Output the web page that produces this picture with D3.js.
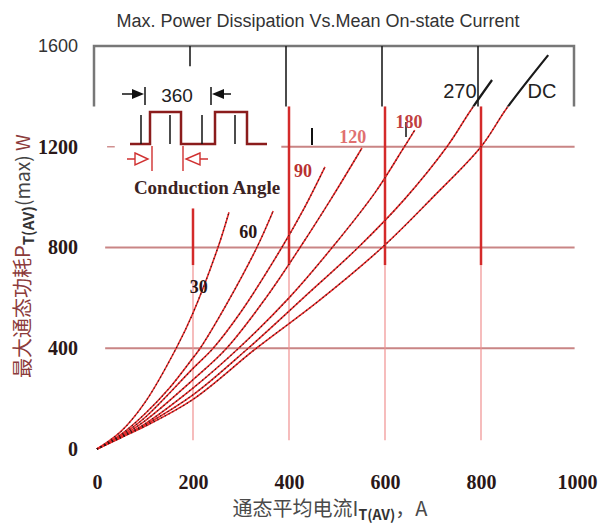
<!DOCTYPE html>
<html>
<head>
<meta charset="utf-8">
<script src="https://d3js.org/d3.v7.min.js"></script>
<style>
  body { margin: 0; background: #fff; }
  svg { display: block; background: #fff; }
  .tick text { font-family: "Liberation Serif", serif; font-weight: bold; font-size: 20px; fill: #2a1818; }
</style>
</head>
<body>
<svg id="chart" width="605" height="527"></svg>
<script>
// mean on-state current (A) -> max power dissipation (W), one array per conduction angle
var angles = ["30", "60", "90", "120", "180", "270", "DC"];
var curve30  = [[0,0],[50,70],[100,185],[165,400],[200,540],[252,800],[275,940]];
var curve60  = [[0,0],[50,58],[100,140],[150,240],[200,362],[215,400],[270,575],[333,800],[367,945]];
var curve90  = [[0,0],[50,54],[100,125],[200,320],[242,400],[300,545],[385,800],[430,950],[475,1120]];
var curve120 = [[0,0],[50,50],[100,112],[200,275],[270,400],[350,595],[423,800],[490,1000],[552,1195]];
var curve180 = [[0,0],[50,47],[100,100],[200,242],[295,400],[400,600],[490,800],[580,1020],[637,1190],[662,1266]];
var curve270 = [[0,0],[50,46],[100,95],[200,215],[315,400],[430,600],[544,800],[640,990],[729,1200],[777,1340],[823,1465]];
var curveDC  = [[0,0],[50,45],[100,90],[200,197],[332,400],[460,585],[594,800],[700,1000],[800,1200],[854,1354],[940,1564]];
var curves = [curve30, curve60, curve90, curve120, curve180, curve270, curveDC];
// where each curve's label sits (A, W)
var labelPos = [[212,619],[315,838],[429,1080],[533,1215],[650,1274],[756,1394],[927,1394]];
var labelColor = ["#2b1515","#2b1515","#b83030","#e07070","#c04040","#222","#222"];

var xTicks = [0, 200, 400, 600, 800, 1000];
var yTicks = [0, 400, 800, 1200, 1600];

var svg = d3.select("#chart");
var x = d3.scaleLinear().domain([0, 1000]).range([97, 577]);
var y = d3.scaleLinear().domain([0, 1600]).range([449, 46]);
var boxBottom = y(1360);

// title
svg.append("text")
  .attr("x", 318).attr("y", 27)
  .attr("text-anchor", "middle")
  .style("font-family", "Liberation Sans, Arial, sans-serif")
  .style("font-size", "18px")
  .style("fill", "#333")
  .text("Max. Power Dissipation Vs.Mean On-state Current");

// top box (black part of the old figure, a little shifted left)
var sh = -3;
svg.append("path")
  .attr("d", "M" + (x(0)+sh) + "," + boxBottom + "V" + y(1600) + "H" + (x(1000)+sh) + "V" + boxBottom)
  .attr("fill", "none").attr("stroke", "#777").attr("stroke-width", 2.5);
[400, 600, 800].forEach(function(v) {
  svg.append("line")
    .attr("x1", x(v)+sh).attr("x2", x(v)+sh)
    .attr("y1", y(1600)).attr("y2", boxBottom)
    .attr("stroke", "#1e1e1e").attr("stroke-width", 1.6);
});
svg.append("line")
  .attr("x1", x(200)+sh).attr("x2", x(200)+sh)
  .attr("y1", y(1600)).attr("y2", y(1520))
  .attr("stroke", "#1e1e1e").attr("stroke-width", 1.6);

// grid
[400, 800].forEach(function(v) {
  svg.append("line")
    .attr("x1", x(17)).attr("x2", x(995))
    .attr("y1", y(v)).attr("y2", y(v))
    .attr("stroke", "#c98585").attr("stroke-width", 2);
});
svg.append("line")
  .attr("x1", x(384)).attr("x2", x(995))
  .attr("y1", y(1200)).attr("y2", y(1200))
  .attr("stroke", "#c98585").attr("stroke-width", 2);
svg.append("line")
  .attr("x1", x(21)).attr("x2", x(37))
  .attr("y1", y(1200)).attr("y2", y(1200))
  .attr("stroke", "#d09090").attr("stroke-width", 1.5);

[200, 400, 600, 800].forEach(function(v) {
  svg.append("line")
    .attr("x1", x(v)).attr("x2", x(v))
    .attr("y1", y(730)).attr("y2", y(35))
    .attr("stroke", "#f09090").attr("stroke-width", 1.2);
  svg.append("line")
    .attr("x1", x(v)).attr("x2", x(v))
    .attr("y1", v == 200 ? y(955) : boxBottom).attr("y2", y(730))
    .attr("stroke", "#d42a2a").attr("stroke-width", 2.5);
});

// stray black marks
svg.append("line").attr("x1", 312).attr("x2", 312).attr("y1", 128).attr("y2", 145)
  .attr("stroke", "#111").attr("stroke-width", 2);
svg.append("line").attr("x1", 406).attr("x2", 406).attr("y1", 122).attr("y2", 137)
  .attr("stroke", "#111").attr("stroke-width", 1.5);

// axes
var xAxis = svg.append("g")
  .attr("transform", "translate(0," + y(0) + ")")
  .call(d3.axisBottom(x).tickValues(xTicks).tickSize(0).tickPadding(26).tickFormat(d3.format("d")));
xAxis.select(".domain").remove();

var yAxis = svg.append("g")
  .attr("transform", "translate(" + x(0) + ",0)")
  .call(d3.axisLeft(y).tickValues(yTicks).tickSize(0).tickPadding(19).tickFormat(d3.format("d")));
yAxis.select(".domain").remove();
yAxis.selectAll(".tick text")
  .filter(function(d) { return d == 1600; })
  .style("font-family", "Liberation Sans, Arial, sans-serif")
  .style("font-weight", "normal")
  .style("font-size", "18px")
  .style("fill", "#333");

// curves: red below the box, black inside it
svg.append("clipPath").attr("id", "clipLow")
  .append("rect").attr("x", 0).attr("y", boxBottom).attr("width", 605).attr("height", 527);
svg.append("clipPath").attr("id", "clipHigh")
  .append("rect").attr("x", 0).attr("y", 0).attr("width", 605).attr("height", boxBottom);

var line = d3.line()
  .x(function(d) { return x(d[0]); })
  .y(function(d) { return y(d[1]); })
  .curve(d3.curveCatmullRom.alpha(0.5));

var low = svg.append("g").attr("clip-path", "url(#clipLow)");
low.selectAll(".cRed").data(curves).enter().append("path")
  .attr("class", "cRed")
  .attr("d", line)
  .attr("fill", "none").attr("stroke", "#e62a2a").attr("stroke-width", 1.6);
low.selectAll(".cDark").data(curves).enter().append("path")
  .attr("class", "cDark")
  .attr("d", line)
  .attr("fill", "none").attr("stroke", "#2e1a1a").attr("stroke-width", 1.2)
  .attr("stroke-dasharray", "1.2,3");

svg.append("g").attr("clip-path", "url(#clipHigh)")
  .selectAll("path").data(curves).enter().append("path")
  .attr("d", line)
  .attr("fill", "none").attr("stroke", "#1a1a1a").attr("stroke-width", 2.2);

// curve labels
svg.selectAll(".clabel").data(angles).enter().append("text")
  .attr("class", "clabel")
  .attr("x", function(d, i) { return x(labelPos[i][0]); })
  .attr("y", function(d, i) { return y(labelPos[i][1]); })
  .attr("text-anchor", "middle")
  .style("font-family", function(d, i) { return i > 4 ? "Liberation Sans Narrow, Arial Narrow, Liberation Sans, sans-serif" : "Liberation Serif, serif"; })
  .style("font-weight", function(d, i) { return i > 4 ? "normal" : "bold"; })
  .style("font-size", function(d, i) { return i > 4 ? "20px" : "18px"; })
  .style("fill", function(d, i) { return labelColor[i]; })
  .text(function(d) { return d; });

// waveform inset
var w = svg.append("g");
w.append("path")
  .attr("d", "M130,144H150V112H181V144H215V112H247V144H267")
  .attr("fill", "none").attr("stroke", "#8b1c1c").attr("stroke-width", 2.5);
[141, 170, 202, 235].forEach(function(px) {
  w.append("line").attr("x1", px).attr("x2", px).attr("y1", 115).attr("y2", 144)
    .attr("stroke", "#111").attr("stroke-width", 1.5);
});
[145, 211].forEach(function(px) {
  w.append("line").attr("x1", px).attr("x2", px).attr("y1", 87).attr("y2", 105)
    .attr("stroke", "#111").attr("stroke-width", 1.5);
});
w.append("line").attr("x1", 122).attr("x2", 134).attr("y1", 94).attr("y2", 94).attr("stroke", "#111").attr("stroke-width", 1.5);
w.append("path").attr("d", "M132,89L144,94L132,99Z").attr("fill", "#111");
w.append("line").attr("x1", 222).attr("x2", 231).attr("y1", 94).attr("y2", 94).attr("stroke", "#111").attr("stroke-width", 1.5);
w.append("path").attr("d", "M224,89L212,94L224,99Z").attr("fill", "#111");
w.append("text")
  .attr("x", 177).attr("y", 102)
  .attr("text-anchor", "middle")
  .style("font-family", "Liberation Sans Narrow, Arial Narrow, Liberation Sans, sans-serif")
  .style("font-size", "19px")
  .style("fill", "#222")
  .text("360");
// diode marks
var dc = "#d03030";
w.append("path").attr("d", "M127,159H135M135,153L148,159L135,165ZM152,146V171")
  .attr("fill", "none").attr("stroke", dc).attr("stroke-width", 1.4);
w.append("path").attr("d", "M183,146V171M200,153L186,159L200,165ZM200,159H208")
  .attr("fill", "none").attr("stroke", dc).attr("stroke-width", 1.4);
w.append("text")
  .attr("x", 207).attr("y", 194)
  .attr("text-anchor", "middle")
  .style("font-family", "Liberation Serif, serif")
  .style("font-weight", "bold")
  .style("font-size", "19px")
  .style("fill", "#3b2323")
  .text("Conduction Angle");

// x axis title
var xt = svg.append("text")
  .attr("x", 330).attr("y", 516)
  .attr("text-anchor", "middle")
  .style("font-family", "Noto Sans CJK SC, sans-serif")
  .style("font-size", "20px")
  .style("fill", "#4a4a4a");
xt.append("tspan").text("通态平均电流I");
xt.append("tspan").attr("dy", 4).style("font-size", "14px").style("font-weight", "bold").style("fill", "#333").text("T(AV)");
xt.append("tspan").attr("dy", -4).text("，A");

// y axis title
var yt = svg.append("text")
  .attr("transform", "translate(30,378) rotate(-90)")
  .attr("text-anchor", "start")
  .style("font-family", "Noto Sans CJK SC, sans-serif")
  .style("font-size", "20px")
  .style("fill", "#8c3b3b");
yt.append("tspan").text("最大通态功耗P");
yt.append("tspan").attr("dy", 4).style("font-size", "15px").style("font-weight", "bold").style("fill", "#333").text("T(AV)");
yt.append("tspan").attr("dy", -4).style("font-size", "19px").style("fill", "#444").text("(max)");
yt.append("tspan").style("font-size", "19px").text("  W");
</script>
</body>
</html>
